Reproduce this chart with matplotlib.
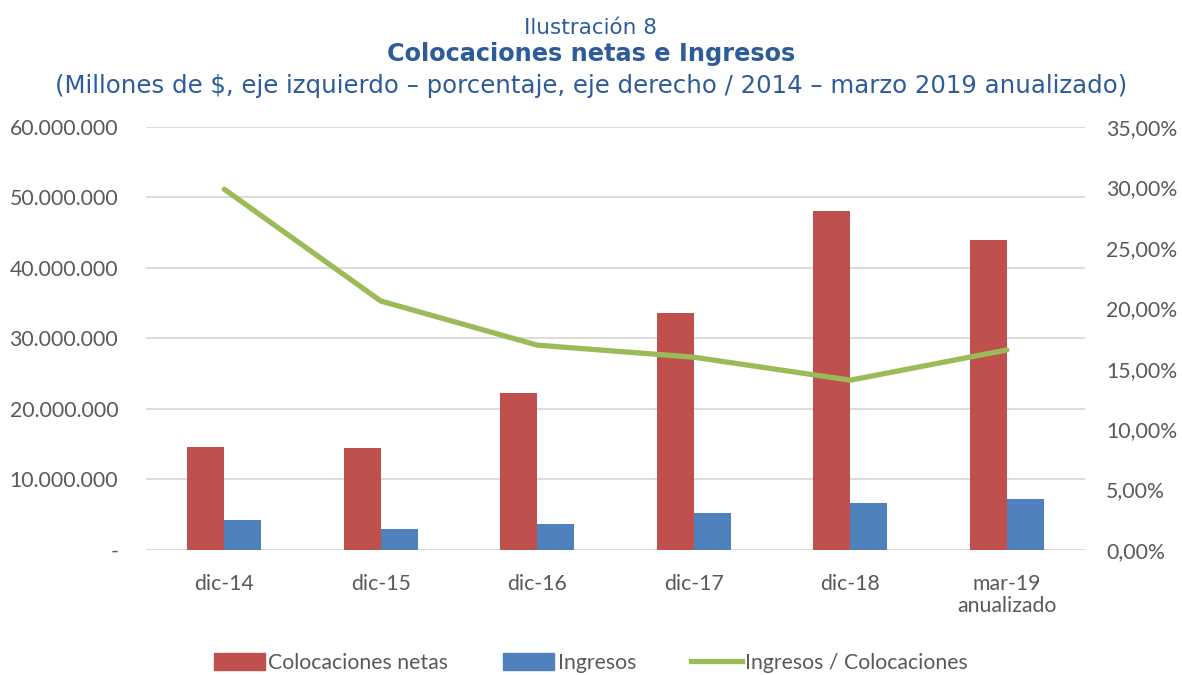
import numpy as np
import matplotlib
matplotlib.use("Agg")
import matplotlib.pyplot as plt
from matplotlib.ticker import FuncFormatter
from matplotlib.patches import Patch
from matplotlib.lines import Line2D

categories = ["dic-14", "dic-15", "dic-16", "dic-17", "dic-18", "mar-19\nanualizado"]
colocaciones = [14600000, 14500000, 22300000, 33600000, 48100000, 44000000]
ingresos = [4270000, 3000000, 3700000, 5250000, 6680000, 7200000]
ratio = [29.85, 20.6, 16.95, 15.95, 14.05, 16.55]

RED = "#C0504D"
BLUE = "#4F81BD"
GREEN = "#9BBB59"
GRID = "#D9D9D9"
TXT = "#595959"
TITLE = "#2E5C99"

plt.rcParams['font.family'] = ['Lato', 'DejaVu Sans']

fig = plt.figure(figsize=(11.82, 6.75), dpi=100)
ax = fig.add_axes([0.1235, 0.1852, 0.7945, 0.6267])
ax2 = ax.twinx()

x = np.arange(len(categories))
w = 0.237
ax.bar(x - w / 2, colocaciones, w, color=RED, zorder=2)
ax.bar(x + w / 2, ingresos, w, color=BLUE, zorder=2)
ax2.plot(x, ratio, color=GREEN, lw=3.8, solid_capstyle='round', zorder=3)

ax.set_xlim(-0.5, len(categories) - 0.5)
ax.set_ylim(0, 60000000)
ax.set_yticks(np.arange(0, 60000001, 10000000))
ax.yaxis.set_major_formatter(FuncFormatter(
    lambda v, p: "-" if v == 0 else f"{v:,.0f}".replace(",", ".")))
ax2.set_ylim(0, 35)
ax2.set_yticks(np.arange(0, 36, 5))
ax2.yaxis.set_major_formatter(FuncFormatter(lambda v, p: f"{v:.2f}%".replace(".", ",")))

ax.grid(axis='y', color=GRID, lw=1.3, zorder=0)
ax.set_axisbelow(True)
for a in (ax, ax2):
    for s in a.spines.values():
        s.set_visible(False)
    a.tick_params(length=0, labelsize=15.3, colors=TXT)
ax.set_xticks(x)
ax.set_xticklabels(categories, linespacing=1.15)
ax.tick_params(axis='x', pad=17)
ax.tick_params(axis='y', pad=20)
ax2.tick_params(axis='y', pad=15)

fig.text(0.5, 0.958, "Ilustración 8", ha='center', va='center', fontsize=15.5,
         color=TITLE, family=['DejaVu Sans'])
fig.text(0.5, 0.920, "Colocaciones netas e Ingresos", ha='center', va='center',
         fontsize=17.3, color=TITLE, fontweight='bold', family=['DejaVu Sans'])
fig.text(0.5, 0.873, "(Millones de $, eje izquierdo \u2013 porcentaje, eje derecho / 2014 \u2013 marzo 2019 anualizado)",
         ha='center', va='center', fontsize=17.6, color=TITLE, family=['DejaVu Sans'])

handles = [Patch(color=RED), Patch(color=BLUE), Line2D([], [], color=GREEN, lw=3.8)]
labels = ["Colocaciones netas", "Ingresos", "Ingresos / Colocaciones"]
fig.legend(handles, labels, loc='center', bbox_to_anchor=(0.5, 0.018), ncol=3,
           frameon=False, fontsize=15.3, labelcolor=TXT, handlelength=2.4,
           handleheight=0.9, handletextpad=0.15, columnspacing=2.6)

fig.savefig("out.png", dpi=100)
